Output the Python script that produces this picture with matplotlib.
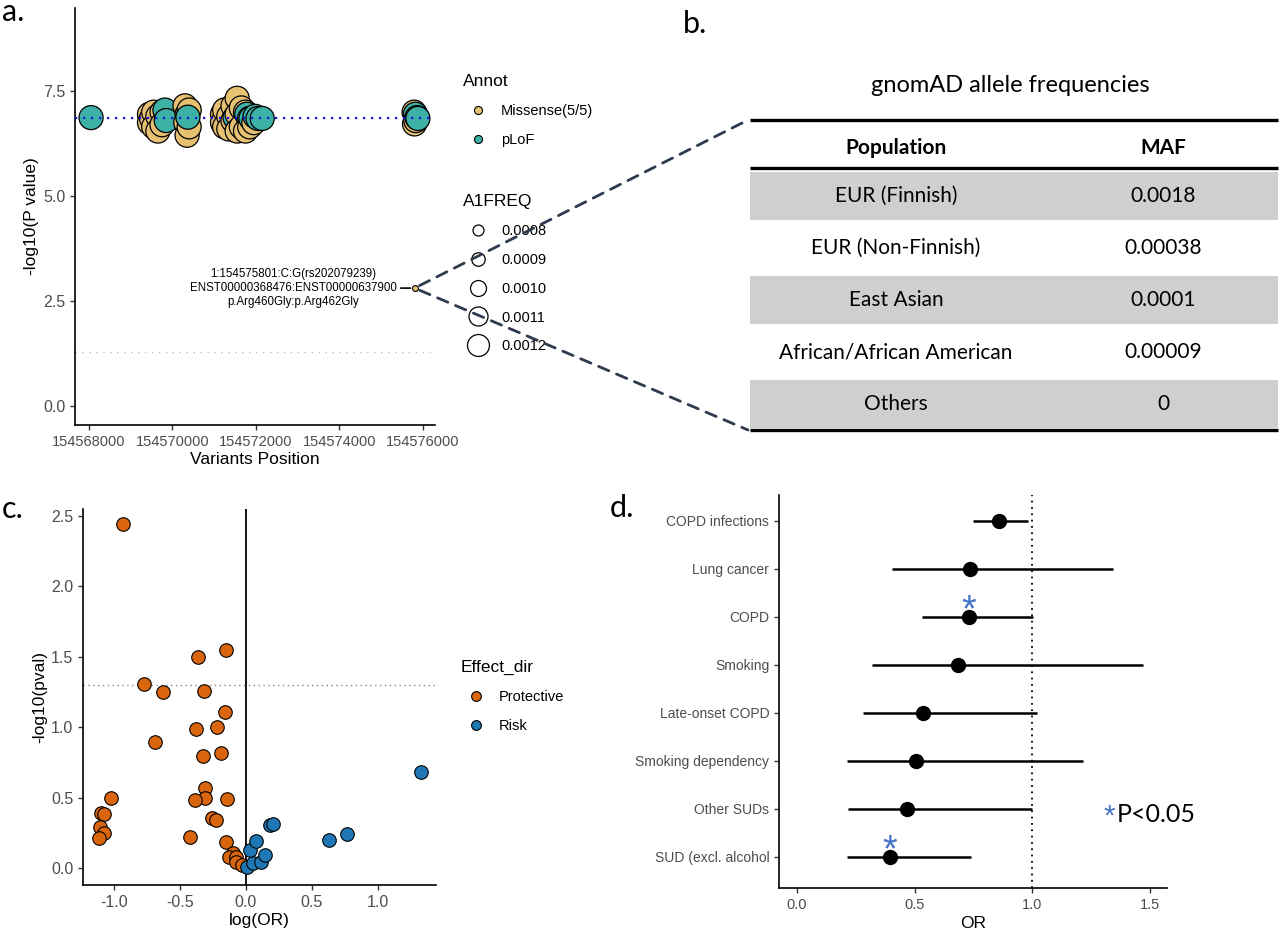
import numpy as np
import matplotlib.pyplot as plt
from matplotlib.lines import Line2D
from matplotlib.patches import Rectangle, ConnectionPatch

plt.rcParams['font.family'] = ['Liberation Sans', 'DejaVu Sans']
plt.rcParams['axes.unicode_minus'] = False

# ---------------- panel a: variants ----------------
M, L = 'Missense(5/5)', 'pLoF'
var_pos = [154568050,
           154569450, 154569450, 154569500, 154569550, 154569550, 154569650, 154569650,
           154569750, 154569750, 154569820, 154569850, 154570300, 154570350, 154570320,
           154570350, 154570400, 154570400, 154570370,
           154571200, 154571200, 154571250, 154571250, 154571350, 154571350, 154571450,
           154571450, 154571500, 154571550, 154571550, 154571550, 154571650, 154571650,
           154571750, 154571750, 154571780, 154571850, 154571850, 154571880, 154571950,
           154571980, 154572050, 154572150,
           154575790, 154575800, 154575820, 154575830, 154575860, 154575880]
var_logp = [6.87,
            6.95, 6.75, 6.85, 7.00, 6.65, 6.90, 6.55,
            7.00, 6.70, 7.05, 6.80, 7.15, 6.95, 6.75,
            6.45, 7.05, 6.65, 6.88,
            6.95, 6.75, 7.05, 6.65, 6.90, 6.60, 7.15,
            6.80, 6.87, 7.33, 6.95, 6.55, 7.10, 6.65,
            7.00, 6.55, 6.95, 6.85, 6.65, 6.85, 6.75,
            6.90, 6.85, 6.85,
            7.00, 6.72, 6.95, 6.80, 6.87, 6.85]
var_annot = [L,
             M, M, M, M, M, M, M,
             M, M, L, L, M, M, M,
             M, M, M, L,
             M, M, M, M, M, M, M,
             M, L, M, M, M, M, M,
             M, M, L, M, M, L, M,
             L, L, L,
             M, M, L, M, L, L]
gene_logp = 6.87
sig_line = 1.3
hit_pos = 154575801
hit_logp = 2.81
hit_label = ('1:154575801:C:G(rs202079239)\n'
             'ENST00000368476:ENST00000637900\n'
             'p.Arg460Gly:p.Arg462Gly')
freq_levels = ['0.0008', '0.0009', '0.0010', '0.0011', '0.0012']

# ---------------- panel b: gnomAD table ----------------
pops = ['EUR (Finnish)', 'EUR (Non-Finnish)', 'East Asian',
        'African/African American', 'Others']
mafs = ['0.0018', '0.00038', '0.0001', '0.00009', '0']

# ---------------- panel c: volcano ----------------
prot_logor = [-0.929, -0.152, -0.365, -0.77, -0.63, -0.32, -0.162, -0.375, -0.223,
              -0.686, -0.329, -0.192, -0.311, -0.309, -0.385, -0.144, -1.025, -1.096,
              -1.073, -1.109, -1.078, -1.114, -0.256, -0.230, -0.425, -0.152, -0.101,
              -0.132, -0.073, -0.073, -0.030]
prot_logp = [2.445, 1.552, 1.50, 1.31, 1.25, 1.26, 1.109, 0.986, 1.002,
             0.898, 0.799, 0.820, 0.571, 0.50, 0.481, 0.488, 0.495, 0.389,
             0.384, 0.289, 0.249, 0.213, 0.358, 0.344, 0.223, 0.185, 0.107,
             0.076, 0.076, 0.043, 0.019]
risk_logor = [0.005, 0.05, 0.033, 0.078, 0.116, 0.147, 0.185, 0.205, 0.628, 0.767, 1.329]
risk_logp = [0.005, 0.036, 0.126, 0.192, 0.040, 0.092, 0.308, 0.313, 0.201, 0.239, 0.680]

# ---------------- panel d: forest ----------------
traits = ['COPD infections', 'Lung cancer', 'COPD', 'Smoking', 'Late-onset COPD',
          'Smoking dependency', 'Other SUDs', 'SUD (excl. alcohol']
or_est = [0.858, 0.735, 0.729, 0.683, 0.534, 0.504, 0.466, 0.395]
or_lo = [0.749, 0.402, 0.533, 0.317, 0.279, 0.211, 0.218, 0.214]
or_hi = [0.983, 1.344, 1.004, 1.472, 1.018, 1.217, 0.997, 0.739]
or_sig = [False, False, True, False, False, False, False, True]

col_mis = '#E6C172'
col_plof = '#3DB1A6'
col_prot = '#D9660F'
col_risk = '#1F78B4'
col_star = '#4472C4'
band_gray = '#CFCFCF'
tick_gray = '#4D4D4D'
calib = ['Lato', 'DejaVu Sans']

fig = plt.figure(figsize=(12.8, 9.3), dpi=100)


def px_axes(x0, y0, x1, y1):
    return fig.add_axes([x0 / 1280, 1 - y1 / 930, (x1 - x0) / 1280, (y1 - y0) / 930])


def classic(ax, lsize=11.5):
    for s in ['top', 'right']:
        ax.spines[s].set_visible(False)
    for s in ['left', 'bottom']:
        ax.spines[s].set_linewidth(1.2)
    ax.tick_params(colors='#333333', labelcolor=tick_gray, labelsize=lsize,
                   length=3.5, width=1.0)


def legend_at(ax, handles, labels, title, x, y):
    lg = ax.legend(handles, labels, title=title, loc='upper left',
                   bbox_to_anchor=(x / 1280, 1 - y / 930), bbox_transform=fig.transFigure,
                   frameon=False, fontsize=10.5, title_fontsize=12.5,
                   borderpad=0, borderaxespad=0, handlelength=2.05,
                   handletextpad=0.55, labelspacing=1.02)
    lg._legend_box.align = 'left'
    return lg


# ---- a
ax_a = px_axes(75, 8, 435, 425)
classic(ax_a)
ax_a.tick_params(axis='x', labelsize=10.5)
cols = [col_mis if a == M else col_plof for a in var_annot]
ax_a.scatter(var_pos, var_logp, s=300, c=cols, edgecolors='black', linewidths=0.9, zorder=3)
ax_a.axhline(gene_logp, color='#1515E0', ls=(0, (1, 2.6)), lw=1.6, zorder=4)
ax_a.axhline(sig_line, color='#BBBBBB', ls=(0, (1, 4)), lw=1.0, zorder=1)
ax_a.scatter([hit_pos], [hit_logp], s=18, c=col_mis, edgecolors='black', linewidths=0.8, zorder=5)
ax_a.annotate(hit_label, xy=(hit_pos, hit_logp), xytext=(-18, 0), textcoords='offset pixels',
              ha='right', va='center', multialignment='center', fontsize=8.3,
              arrowprops=dict(arrowstyle='-', color='black', lw=1.2,
                              relpos=(1, 0.5), shrinkA=1, shrinkB=3))
ax_a.set_xlim(154567665, 154576290)
ax_a.set_ylim(-0.45, 9.48)
ax_a.set_xticks([154568000, 154570000, 154572000, 154574000, 154576000])
ax_a.set_xticklabels(['154568000', '154570000', '154572000', '154574000', '154576000'])
ax_a.set_yticks([0, 2.5, 5.0, 7.5])
ax_a.set_yticklabels(['0.0', '2.5', '5.0', '7.5'])
ax_a.set_xlabel('Variants Position', fontsize=12.5, labelpad=2)
ax_a.set_ylabel('-log10(P value)', fontsize=12.5, labelpad=3)

h_annot = [Line2D([], [], ls='', marker='o', ms=5.8, mfc=c, mec='black', mew=0.8)
           for c in [col_mis, col_plof]]
lg1 = legend_at(ax_a, h_annot, [M, L], 'Annot', 463, 74)
ax_a.add_artist(lg1)
h_freq = [Line2D([], [], ls='', marker='o', ms=m, mfc='white', mec='black', mew=0.9)
          for m in [7.9, 9.7, 11.5, 13.7, 15.8]]
legend_at(ax_a, h_freq, freq_levels, 'A1FREQ', 463, 194)

# ---- c
ax_c = px_axes(83, 509, 436, 885)
classic(ax_c)
ax_c.axvline(0, color='black', lw=1.3, zorder=1)
ax_c.axhline(1.3, color='#8A8A8A', ls=(0, (1, 2.5)), lw=1.0, zorder=1)
ax_c.scatter(prot_logor, prot_logp, s=95, c=col_prot, edgecolors='black', linewidths=0.8,
             zorder=3, label='Protective')
ax_c.scatter(risk_logor, risk_logp, s=95, c=col_risk, edgecolors='black', linewidths=0.8,
             zorder=3, label='Risk')
ax_c.set_xlim(-1.235, 1.44)
ax_c.set_ylim(-0.12, 2.55)
ax_c.set_xticks([-1.0, -0.5, 0.0, 0.5, 1.0])
ax_c.set_xticklabels(['-1.0', '-0.5', '0.0', '0.5', '1.0'])
ax_c.set_yticks([0, 0.5, 1.0, 1.5, 2.0, 2.5])
ax_c.set_yticklabels(['0.0', '0.5', '1.0', '1.5', '2.0', '2.5'])
ax_c.set_xlabel('log(OR)', fontsize=12.5, labelpad=2)
ax_c.set_ylabel('-log10(pval)', fontsize=12.5, labelpad=3)
h_eff = [Line2D([], [], ls='', marker='o', ms=7, mfc=c, mec='black', mew=0.8)
         for c in [col_prot, col_risk]]
legend_at(ax_c, h_eff, ['Protective', 'Risk'], 'Effect_dir', 461, 660)

# ---- d
ax_d = px_axes(779, 495, 1167, 888)
classic(ax_d, 10.5)
yy = np.arange(len(traits))[::-1] + 1
ax_d.axvline(1.0, color='black', ls=(0, (1, 2.5)), lw=1.3, zorder=1)
ax_d.hlines(yy, or_lo, or_hi, color='black', lw=1.8, zorder=2)
ax_d.plot(or_est, yy, 'o', ms=10, color='black', zorder=3)
for e, y, s in zip(or_est, yy, or_sig):
    if s:
        ax_d.annotate('*', xy=(e, y), xytext=(0, -4), textcoords='offset pixels',
                      ha='center', va='baseline', fontsize=27, color=col_star)
ax_d.set_xlim(-0.0765, 1.572)
ax_d.set_ylim(0.354, 8.54)
ax_d.set_xticks([0.0, 0.5, 1.0, 1.5])
ax_d.set_xticklabels(['0.0', '0.5', '1.0', '1.5'])
ax_d.set_yticks(yy)
ax_d.set_yticklabels(traits, fontsize=10)
ax_d.set_xlabel('OR', fontsize=12.5, labelpad=3)
fig.text(1103 / 1280, 1 - 825 / 930, '*', color=col_star, fontsize=21,
         ha='left', va='baseline')
fig.text(1117 / 1280, 1 - 822 / 930, 'P<0.05', color='black', fontsize=18, family=calib,
         ha='left', va='baseline')

# ---- b (table) and connectors, drawn in pixel space
ov = fig.add_axes([0, 0, 1, 1])
ov.set_xlim(0, 1280)
ov.set_ylim(930, 0)
ov.axis('off')
ov.patch.set_visible(False)

tab_x0, tab_x1 = 750, 1278
col_x = [896, 1163]
row_top, row_h = 170, 52
ov.text(1010, 85, 'gnomAD allele frequencies', ha='center', va='center',
        fontsize=17, family=calib)
ov.text(col_x[0], 148, 'Population', ha='center', va='center', fontsize=15,
        family=calib, weight='bold')
ov.text(col_x[1], 148, 'MAF', ha='center', va='center', fontsize=15,
        family=calib, weight='bold')
for i, (p, m) in enumerate(zip(pops, mafs)):
    top = row_top + i * row_h
    if i % 2 == 0:
        ov.add_patch(Rectangle((tab_x0, top + 2), tab_x1 - tab_x0, row_h - 4,
                               facecolor=band_gray, lw=0))
    ov.text(col_x[0], top + row_h / 2, p, ha='center', va='center', fontsize=15, family=calib)
    ov.text(col_x[1], top + row_h / 2, m, ha='center', va='center', fontsize=15, family=calib)
for yl in [120, 168, row_top + len(pops) * row_h]:
    ov.plot([tab_x0, tab_x1], [yl, yl], color='black', lw=2.4, solid_capstyle='butt')

for corner in [(748, 120), (748, row_top + len(pops) * row_h)]:
    con = ConnectionPatch(xyA=(hit_pos, hit_logp), coordsA=ax_a.transData,
                          xyB=corner, coordsB=ov.transData, color='#2E3B4E',
                          lw=2.0, ls=(0, (4, 3)), shrinkA=4, shrinkB=0)
    ov.add_artist(con)

# panel letters
for lab, x, y in [('a.', 2, 21), ('b.', 683, 33), ('c.', 2, 518), ('d.', 610, 517)]:
    ov.text(x, y, lab, ha='left', va='baseline', fontsize=22, family=calib)

fig.savefig('out.png', dpi=100)
